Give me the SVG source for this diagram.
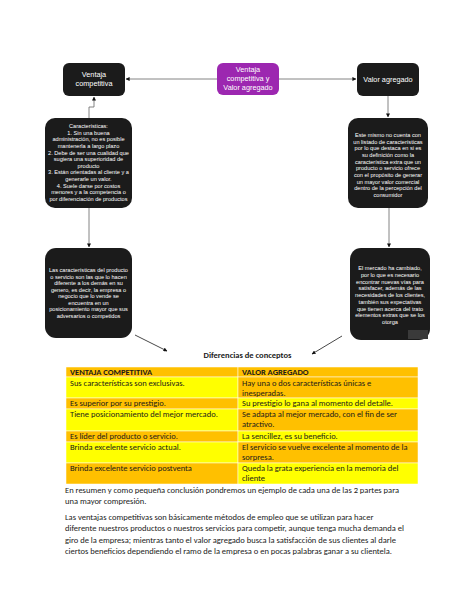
<svg xmlns="http://www.w3.org/2000/svg" width="474" height="613" viewBox="0 0 474 613">
<defs>
<marker id="ah" viewBox="0 0 10 10" refX="9" refY="5" markerWidth="4" markerHeight="4" orient="auto" markerUnits="userSpaceOnUse">
<path d="M0,0 L10,5 L0,10 z" fill="#111"/>
</marker>
<style>
.box{fill:#1b1b1b;}
.btxt{font-family:"Liberation Sans",Arial,sans-serif;fill:#fff;text-anchor:middle;}
.s{font-size:5.6px;}
.m{font-size:7.3px;}
.conn{fill:none;stroke:#666;stroke-width:0.8;}
.dconn{fill:none;stroke:#333;stroke-width:0.9;}
.cal{font-family:Carlito,Lato,"Open Sans",sans-serif;fill:#1a1a1a;font-size:8.5px;}
.hd{font-weight:bold;}
.or{fill:#FFC000;stroke:#fff;stroke-width:0.5;}
.ye{fill:#FFFF00;stroke:#fff;stroke-width:0.5;}
</style>
</defs>
<rect width="474" height="613" fill="#fff"/>

<g id="connectors">
<line class="conn" x1="217" y1="79" x2="126" y2="79" marker-end="url(#ah)"/>
<line class="conn" x1="279" y1="79" x2="356" y2="79" marker-end="url(#ah)"/>
<polyline class="conn" points="89,118 89,107 94,107 94,97" marker-end="url(#ah)"/>
<line class="conn" x1="89" y1="208" x2="89" y2="247" marker-end="url(#ah)"/>
<line class="conn" x1="388" y1="96" x2="388" y2="117" marker-end="url(#ah)"/>
<line class="conn" x1="389" y1="208" x2="389" y2="247" marker-end="url(#ah)"/>
<line class="dconn" x1="135" y1="335" x2="167" y2="351" marker-end="url(#ah)"/>
<line class="dconn" x1="342" y1="336" x2="312" y2="354" marker-end="url(#ah)"/>
</g>

<g id="node-center">
<rect x="217" y="63" width="62" height="32" rx="6" fill="#9c27b0"/>
<text class="btxt m" x="248" y="71.5">Ventaja</text>
<text class="btxt m" x="248" y="80.5">competitiva y</text>
<text class="btxt m" x="248" y="89.5">Valor agregado</text>
</g>

<g id="node-ventaja">
<rect class="box" x="63" y="63" width="62" height="33" rx="6"/>
<text class="btxt m" x="94" y="76.5">Ventaja</text>
<text class="btxt m" x="94" y="85.5">competitiva</text>
</g>

<g id="node-valor">
<rect class="box" x="357" y="63" width="62" height="33" rx="6"/>
<text class="btxt m" x="388" y="81.5">Valor agregado</text>
</g>

<g id="node-caract">
<rect class="box" x="45" y="118" width="87" height="90" rx="10"/>
<text class="btxt s" x="88.5" y="128">Características:</text>
<text class="btxt s" x="88.5" y="134.64">1. Sin una buena</text>
<text class="btxt s" x="88.5" y="141.28">administración, no es posible</text>
<text class="btxt s" x="88.5" y="147.92">mantenerla a largo plazo</text>
<text class="btxt s" x="88.5" y="154.56">2. Debe de ser una cualidad que</text>
<text class="btxt s" x="88.5" y="161.2">sugiera una superioridad de</text>
<text class="btxt s" x="88.5" y="167.84">producto</text>
<text class="btxt s" x="88.5" y="174.48">3. Están orientadas al cliente y a</text>
<text class="btxt s" x="88.5" y="181.12">generarle un valor.</text>
<text class="btxt s" x="88.5" y="187.76">4. Suele darse por costos</text>
<text class="btxt s" x="88.5" y="194.4">menores y a la competencia o</text>
<text class="btxt s" x="88.5" y="201.04">por diferenciación de productos</text>
</g>

<g id="node-este">
<rect class="box" x="348" y="118" width="80" height="90" rx="10"/>
<text class="btxt s" x="388" y="137">Este mismo no cuenta con</text>
<text class="btxt s" x="388" y="143.67">un listado de características</text>
<text class="btxt s" x="388" y="150.33">por lo que destaca en si es</text>
<text class="btxt s" x="388" y="157">su definición como la</text>
<text class="btxt s" x="388" y="163.67">característica extra que un</text>
<text class="btxt s" x="388" y="170.33">producto o servicio ofrece</text>
<text class="btxt s" x="388" y="177">con el propósito de generar</text>
<text class="btxt s" x="388" y="183.67">un mayor valor comercial</text>
<text class="btxt s" x="388" y="190.33">dentro de la percepción del</text>
<text class="btxt s" x="388" y="197">consumidor</text>
</g>

<g id="node-las">
<rect class="box" x="45" y="248" width="87" height="90" rx="11"/>
<text class="btxt s" x="88.5" y="272">Las características del producto</text>
<text class="btxt s" x="88.5" y="278.57">o servicio son las que lo hacen</text>
<text class="btxt s" x="88.5" y="285.14">diferente a los demás en su</text>
<text class="btxt s" x="88.5" y="291.71">genero, es decir, la empresa o</text>
<text class="btxt s" x="88.5" y="298.28">negocio que lo vende se</text>
<text class="btxt s" x="88.5" y="304.85">encuentra en un</text>
<text class="btxt s" x="88.5" y="311.42">posicionamiento mayor que sus</text>
<text class="btxt s" x="88.5" y="318">adversarios o competidos</text>
</g>

<g id="node-mercado">
<rect class="box" x="350" y="248" width="80" height="92" rx="11"/>
<text class="btxt s" x="390" y="270">El mercado ha cambiado,</text>
<text class="btxt s" x="390" y="276.75">por lo que es necesario</text>
<text class="btxt s" x="390" y="283.5">encontrar nuevas vías para</text>
<text class="btxt s" x="390" y="290.25">satisfacer, además de las</text>
<text class="btxt s" x="390" y="297">necesidades de los clientes,</text>
<text class="btxt s" x="390" y="303.75">también sus expectativas</text>
<text class="btxt s" x="390" y="310.5">que tienen acerca del trato</text>
<text class="btxt s" x="390" y="317.25">elementos extras que se los</text>
<text class="btxt s" x="390" y="324">otorga</text>
<rect x="408" y="330" width="20" height="9" fill="#3a3a3a"/>
</g>

<g id="title">
<text class="cal hd" x="247.5" y="358" text-anchor="middle" font-size="9">Diferencias de conceptos</text>
</g>

<g id="table">
<rect class="or" x="66" y="367" width="172" height="10"/>
<rect class="or" x="238" y="367" width="180" height="10"/>
<rect class="ye" x="66" y="377" width="172" height="21"/>
<rect class="or" x="238" y="377" width="180" height="21"/>
<rect class="or" x="66" y="398" width="172" height="11"/>
<rect class="ye" x="238" y="398" width="180" height="11"/>
<rect class="ye" x="66" y="409" width="172" height="22"/>
<rect class="or" x="238" y="409" width="180" height="22"/>
<rect class="or" x="66" y="431" width="172" height="11"/>
<rect class="ye" x="238" y="431" width="180" height="11"/>
<rect class="ye" x="66" y="442" width="172" height="21"/>
<rect class="or" x="238" y="442" width="180" height="21"/>
<rect class="or" x="66" y="463" width="172" height="21"/>
<rect class="ye" x="238" y="463" width="180" height="21"/>

<text class="cal hd" x="70" y="374.8">VENTAJA COMPETITIVA</text>
<text class="cal hd" x="242" y="374.8">VALOR AGREGADO</text>
<text class="cal" x="70" y="386">Sus características son exclusivas.</text>
<text class="cal" x="242" y="386">Hay una o dos características únicas e</text>
<text class="cal" x="242" y="396">inesperadas.</text>
<text class="cal" x="70" y="406.3">Es superior por su prestigio.</text>
<text class="cal" x="242" y="406.3">Su prestigio lo gana al momento del detalle.</text>
<text class="cal" x="70" y="417">Tiene posicionamiento del mejor mercado.</text>
<text class="cal" x="242" y="417">Se adapta al mejor mercado, con el fin de ser</text>
<text class="cal" x="242" y="427">atractivo.</text>
<text class="cal" x="70" y="439.3">Es líder del producto o servicio.</text>
<text class="cal" x="242" y="439.3">La sencillez, es su beneficio.</text>
<text class="cal" x="70" y="450">Brinda excelente servicio actual.</text>
<text class="cal" x="242" y="450">El servicio se vuelve excelente al momento de la</text>
<text class="cal" x="242" y="460">sorpresa.</text>
<text class="cal" x="70" y="470.5">Brinda excelente servicio postventa</text>
<text class="cal" x="242" y="470.5">Queda la grata experiencia en la memoria del</text>
<text class="cal" x="242" y="480.5">cliente</text>
</g>

<g id="paragraphs">
<text class="cal" x="65" y="493">En resumen y como pequeña conclusión pondremos un ejemplo de cada una de las 2 partes para</text>
<text class="cal" x="65" y="504.3">una mayor compresión.</text>
<text class="cal" x="65" y="520">Las ventajas competitivas son básicamente métodos de empleo que se utilizan para hacer</text>
<text class="cal" x="65" y="531.3">diferente nuestros productos o nuestros servicios para competir, aunque tenga mucha demanda el</text>
<text class="cal" x="65" y="542.6">giro de la empresa; mientras tanto el valor agregado busca la satisfacción de sus clientes al darle</text>
<text class="cal" x="65" y="554">ciertos beneficios dependiendo el ramo de la empresa o en pocas palabras ganar a su clientela.</text>
</g>
</svg>
